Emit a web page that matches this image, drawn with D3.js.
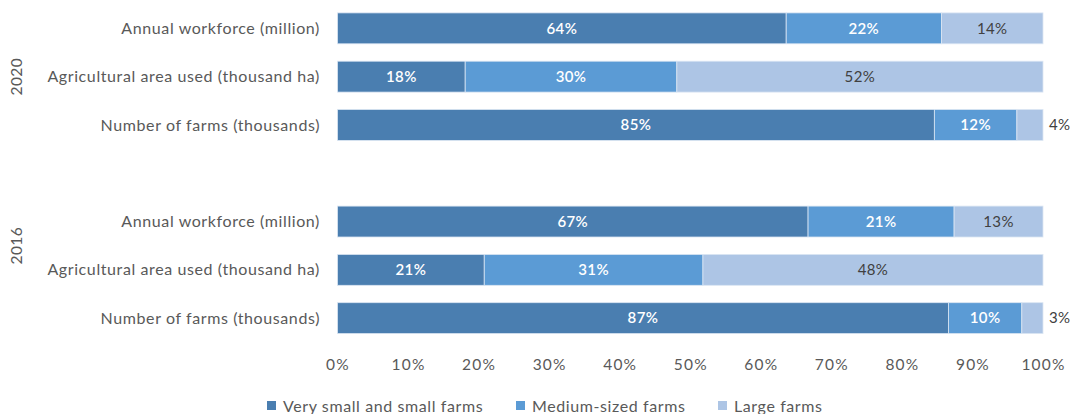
<!DOCTYPE html>
<html>
<head>
<meta charset="utf-8">
<script src="https://cdn.jsdelivr.net/npm/d3@7"></script>
<style>
  html, body { margin: 0; padding: 0; background: #ffffff; }
  svg { display: block; font-family: Lato, "Open Sans", sans-serif; }
</style>
</head>
<body>
<svg id="chart" width="1071" height="414"></svg>
<script>
// Farm structure shares by size class (% of total), 2020 and 2016
const years = ["2020", "2016"];
const indicators = [
  "Annual workforce (million)",
  "Agricultural area used (thousand ha)",
  "Number of farms (thousands)"
];
const sizeClasses = ["Very small and small farms", "Medium-sized farms", "Large farms"];

// values per indicator, in the order of `indicators`
const small2020  = [63.6, 18.1, 84.6];
const medium2020 = [22.0, 30.0, 11.7];
const large2020  = [14.4, 51.9, 3.7];

const small2016  = [66.7, 20.8, 86.6];
const medium2016 = [20.7, 31.0, 10.4];
const large2016  = [12.6, 48.2, 3.0];

const xTicks = [0, 10, 20, 30, 40, 50, 60, 70, 80, 90, 100];

const colors = ["#4a7eb0", "#5b9bd5", "#adc5e5"];
const labelColors = ["#ffffff", "#ffffff", "#404040"];

// assemble rows: one per year/indicator, with a spacer row between years
const seriesByYear = {
  "2020": [small2020, medium2020, large2020],
  "2016": [small2016, medium2016, large2016]
};
const rows = [];
years.forEach((yr, yi) => {
  if (yi > 0) rows.push({ key: "gap-" + yr, spacer: true });
  indicators.forEach((ind, i) => {
    const vals = seriesByYear[yr].map(s => s[i]);
    rows.push({ key: yr + "|" + ind, year: yr, indicator: ind, values: vals });
  });
});

const svg = d3.select("#chart");

const x = d3.scaleLinear().domain([0, 100]).range([337.5, 1043]);
const y = d3.scaleBand()
  .domain(rows.map(r => r.key))
  .range([4.2, 4.2 + rows.length * 48.3])
  .paddingInner(0.36)
  .paddingOuter(0.18);

const dataRows = rows.filter(r => !r.spacer);

// stacked segments
const segs = [];
dataRows.forEach(r => {
  let acc = 0;
  r.values.forEach((v, k) => {
    segs.push({ row: r, k, x0: acc, x1: acc + v, v });
    acc += v;
  });
});

svg.append("g").selectAll("rect")
  .data(segs)
  .enter().append("rect")
  .attr("x", d => x(d.x0))
  .attr("y", d => y(d.row.key))
  .attr("width", d => x(d.x1) - x(d.x0))
  .attr("height", y.bandwidth())
  .attr("fill", d => colors[d.k])
  .attr("stroke", "#dbe6f3")
  .attr("stroke-width", 0.8);

// value labels: inside the segment, or just past the bar end when the segment is narrow
svg.append("g").selectAll("text")
  .data(segs)
  .enter().append("text")
  .attr("x", d => {
    const w = x(d.x1) - x(d.x0);
    return w < 30 ? x(d.x1) + 6 : (x(d.x0) + x(d.x1)) / 2;
  })
  .attr("y", d => y(d.row.key) + y.bandwidth() / 2)
  .attr("dy", "0.35em")
  .attr("text-anchor", d => (x(d.x1) - x(d.x0)) < 30 ? "start" : "middle")
  .attr("fill", d => (x(d.x1) - x(d.x0)) < 30 ? "#404040" : labelColors[d.k])
  .attr("font-size", 15)
  .attr("letter-spacing", 0.4)
  .attr("font-weight", d => d.k < 2 ? 600 : 400)
  .text(d => Math.round(d.v) + "%");

// indicator labels
svg.append("g").selectAll("text")
  .data(dataRows)
  .enter().append("text")
  .attr("x", 320)
  .attr("y", d => y(d.key) + y.bandwidth() / 2)
  .attr("dy", "0.35em")
  .attr("text-anchor", "end")
  .attr("fill", "#595959")
  .attr("font-size", 16)
  .attr("letter-spacing", 0.6)
  .text(d => d.indicator);

// year labels, rotated
const yearLabelY = { "2020": y("2020|" + indicators[1]) + y.bandwidth() / 2,
                     "2016": (y("2016|" + indicators[0]) + y("2016|" + indicators[1])) / 2 + y.bandwidth() / 2 };
svg.append("g").selectAll("text")
  .data(years)
  .enter().append("text")
  .attr("transform", d => `translate(17,${yearLabelY[d]}) rotate(-90)`)
  .attr("dy", "0.35em")
  .attr("text-anchor", "middle")
  .attr("fill", "#595959")
  .attr("font-size", 15.5)
  .attr("letter-spacing", 0.4)
  .text(d => d);

// x axis: tick labels only
const xAxis = d3.axisBottom(x)
  .tickValues(xTicks)
  .tickFormat(d => d + "%")
  .tickSize(0)
  .tickPadding(0);
const gx = svg.append("g").attr("transform", "translate(0,359)").call(xAxis);
gx.select(".domain").remove();
gx.selectAll("text")
  .attr("fill", "#595959")
  .attr("font-size", 15.5)
  .attr("letter-spacing", 1.2)
  .attr("font-family", "Lato, 'Open Sans', sans-serif");

// legend
const legendX = [267, 516, 718];
const lg = svg.append("g").selectAll("g")
  .data(sizeClasses)
  .enter().append("g")
  .attr("transform", (d, i) => `translate(${legendX[i]},406)`);
lg.append("rect")
  .attr("x", 0).attr("y", -5)
  .attr("width", 9).attr("height", 9)
  .attr("fill", (d, i) => colors[i]);
lg.append("text")
  .attr("x", 16)
  .attr("dy", "0.35em")
  .attr("fill", "#595959")
  .attr("font-size", 16)
  .attr("letter-spacing", 0.6)
  .text(d => d);
</script>
</body>
</html>
